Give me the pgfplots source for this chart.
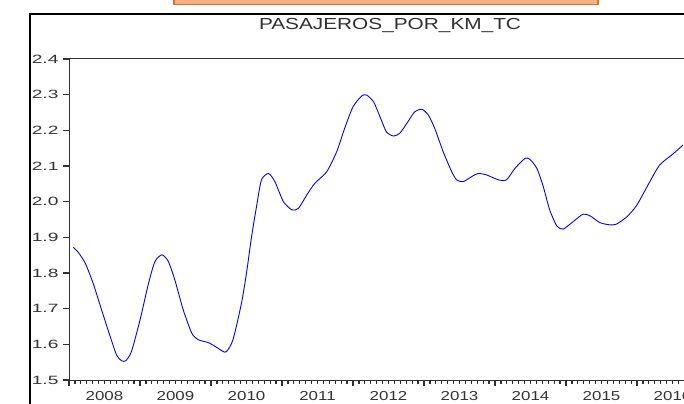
\documentclass[border=0pt]{standalone}
\usepackage{fontspec}
\usepackage{pgfplots}
\pgfplotsset{compat=1.18}
\setmainfont{Liberation Sans}
\newfontfamily\titlefont[FakeStretch=1.3]{Liberation Sans}
\newfontfamily\ytickfont[FakeStretch=1.6]{Liberation Sans}
\newfontfamily\xtickfont[FakeStretch=1.3]{Liberation Sans}
\definecolor{txtgray}{HTML}{333333}
\definecolor{axgray}{HTML}{303030}
\definecolor{orgline}{HTML}{E07030}
\definecolor{orgfill}{HTML}{F4B183}
\pgfplotstableread{
x y
2008.06 1.872
2008.13 1.858
2008.23 1.827
2008.34 1.771
2008.46 1.696
2008.58 1.622
2008.67 1.570
2008.74 1.554
2008.80 1.554
2008.88 1.580
2009.00 1.668
2009.12 1.771
2009.21 1.832
2009.31 1.851
2009.40 1.832
2009.49 1.781
2009.61 1.696
2009.73 1.631
2009.82 1.613
2009.96 1.605
2010.06 1.594
2010.17 1.580
2010.22 1.580
2010.31 1.613
2010.43 1.716
2010.50 1.800
2010.57 1.900
2010.64 1.985
2010.71 2.061
2010.81 2.079
2010.90 2.056
2011.02 2.000
2011.14 1.977
2011.23 1.981
2011.35 2.019
2011.46 2.051
2011.63 2.084
2011.77 2.140
2011.89 2.210
2012.00 2.266
2012.12 2.296
2012.19 2.299
2012.29 2.280
2012.38 2.238
2012.47 2.196
2012.57 2.184
2012.66 2.192
2012.76 2.220
2012.87 2.252
2012.97 2.259
2013.06 2.243
2013.15 2.206
2013.27 2.140
2013.39 2.084
2013.46 2.061
2013.55 2.056
2013.67 2.070
2013.76 2.079
2013.88 2.075
2014.05 2.061
2014.16 2.061
2014.28 2.093
2014.42 2.121
2014.49 2.119
2014.59 2.093
2014.68 2.042
2014.77 1.977
2014.87 1.932
2014.96 1.923
2015.10 1.944
2015.24 1.965
2015.34 1.960
2015.48 1.941
2015.62 1.935
2015.71 1.937
2015.86 1.958
2016.00 1.991
2016.18 2.056
2016.32 2.103
2016.49 2.131
2016.65 2.159
}\series
\begin{document}
\begin{tikzpicture}
\useasboundingbox (0,0) rectangle (684bp,404bp);
\fill[white] (0,0) rectangle (684bp,404bp);
% outer frame
\draw[black, line width=1.5bp] (30bp,-5bp) -- (30bp,390bp) -- (700bp,390bp);
% orange box
\draw[draw=orgline, fill=orgfill, line width=1.5bp] (174bp,399.5bp) rectangle (598bp,420bp);
\node[font=\titlefont\fontsize{16bp}{18bp}\selectfont, text=axgray] at (390bp,378bp) {PASAJEROS\_POR\_KM\_TC};
\begin{axis}[
  at={(69bp,24bp)}, anchor=south west,
  scale only axis, width=641bp, height=321bp,
  xmin=2008, xmax=2017.028, ymin=1.5, ymax=2.4,
  axis line style={axgray, line width=1bp},
  tick pos=left,
  tick align=outside,
  major tick length=6bp, minor tick length=3.5bp,
  every tick/.append style={axgray, line width=1.2bp},
  xtick={2008,2009,2010,2011,2012,2013,2014,2015,2016,2017},
  x tick label as interval,
  xticklabels={2008,2009,2010,2011,2012,2013,2014,2015,2016},
  minor x tick num=11,
  xticklabel style={font=\xtickfont\fontsize{13bp}{15bp}\selectfont, text=txtgray, yshift=-2bp},
  ytick={1.5,1.6,1.7,1.8,1.9,2.0,2.1,2.2,2.3,2.4},
  yticklabel style={font=\ytickfont\fontsize{12bp}{14bp}\selectfont, text=txtgray, xshift=-1bp,
     /pgf/number format/.cd, fixed, fixed zerofill, precision=1, assume math mode=true},
]
\addplot[blue, line width=0.9bp, smooth, tension=0.4] table[x=x, y=y] {\series};
\end{axis}
\end{tikzpicture}
\end{document}
